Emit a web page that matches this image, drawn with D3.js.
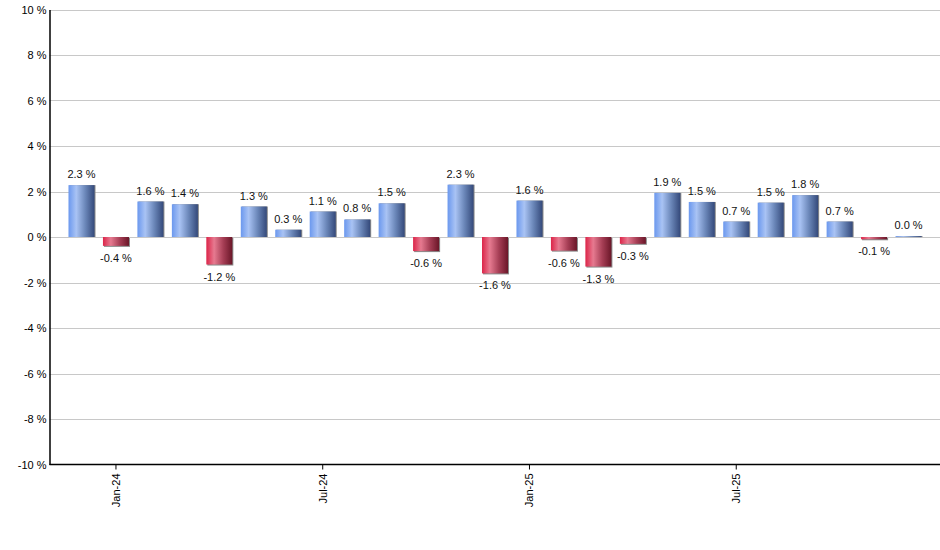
<!DOCTYPE html>
<html><head><meta charset="utf-8">
<script src="https://cdn.jsdelivr.net/npm/d3@7"></script>
<style>body{margin:0;background:#fff;}svg{display:block;font-family:"Liberation Sans",Arial,sans-serif;}</style>
</head><body><svg id="c" width="940" height="550"></svg>
<script>
const months = ["Dec-23","Jan-24","Feb-24","Mar-24","Apr-24","May-24","Jun-24","Jul-24","Aug-24","Sep-24","Oct-24","Nov-24","Dec-24","Jan-25","Feb-25","Mar-25","Apr-25","May-25","Jun-25","Jul-25","Aug-25","Sep-25","Oct-25","Nov-25","Dec-25"];
const values = [2.28,-0.39,1.56,1.44,-1.21,1.34,0.32,1.12,0.77,1.48,-0.62,2.3,-1.6,1.6,-0.6,-1.3,-0.3,1.94,1.54,0.68,1.51,1.84,0.68,-0.1,0.04];
const labels = ["2.3 %","-0.4 %","1.6 %","1.4 %","-1.2 %","1.3 %","0.3 %","1.1 %","0.8 %","1.5 %","-0.6 %","2.3 %","-1.6 %","1.6 %","-0.6 %","-1.3 %","-0.3 %","1.9 %","1.5 %","0.7 %","1.5 %","1.8 %","0.7 %","-0.1 %","0.0 %"];
const xTickMonths = ["Jan-24","Jul-24","Jan-25","Jul-25"];
const yTicks = [-10,-8,-6,-4,-2,0,2,4,6,8,10];

(function(){
const svg = d3.select("#c");
const defs = svg.append("defs");
function grad(id, stops){
  const g = defs.append("linearGradient").attr("id",id).attr("x1","0").attr("x2","1").attr("y1","0").attr("y2","0");
  stops.forEach(s=>g.append("stop").attr("offset",s[0]).attr("stop-color",s[1]));
}
grad("gBlue",[[0,"#6b98ee"],[0.3,"#a9c3f4"],[0.65,"#6a86b8"],[1,"#34497a"]]);
grad("gRed",[[0,"#dc2448"],[0.3,"#e67a90"],[0.65,"#a63e55"],[1,"#6a1628"]]);

const pLeft = 49.5, pRight = 940, pTop = 9.5, pBottom = 464.5;
const step = 34.46, c0 = 81.5;
const x = d3.scaleBand().domain(months)
  .range([c0 - step/2, c0 - step/2 + step*months.length])
  .paddingInner(0.245).paddingOuter(0.1225);
const y = d3.scaleLinear().domain([-10,10]).range([pBottom, pTop]);

// grid
svg.append("g").selectAll("line").data(yTicks.filter(d=>d>-10)).join("line")
  .attr("x1",pLeft).attr("x2",pRight).attr("y1",d=>Math.round(y(d))+0.5).attr("y2",d=>Math.round(y(d))+0.5)
  .attr("stroke","#c8c8c8").attr("stroke-width",1);

// y axis
const yAxis = d3.axisLeft(y).tickValues(yTicks).tickSize(0).tickPadding(3).tickFormat(d=>d+" %");
const ya = svg.append("g").attr("transform",`translate(${pLeft},0)`).call(yAxis);
ya.select(".domain").attr("stroke","#000").attr("stroke-width",1.5);
ya.selectAll("text").attr("font-size","11px").attr("fill","#000").attr("font-family","Liberation Sans, Arial, sans-serif");

// bars
const g = svg.append("g");
const bw = x.bandwidth();
values.forEach((v,i)=>{
  const m = months[i];
  const x0 = x(m);
  const y0 = Math.min(y(v), y(0)), h = Math.abs(y(v)-y(0));
  g.append("rect").attr("x",x0+1).attr("y",y0+ (v>=0?0:1)).attr("width",bw).attr("height",Math.max(h,1)).attr("fill","#8a8a8a");
  g.append("rect").attr("x",x0).attr("y",y0).attr("width",bw).attr("height",Math.max(h,1))
    .attr("fill", v>=0 ? "url(#gBlue)" : "url(#gRed)");
  g.append("text").attr("x",x0+bw/2)
    .attr("y", v>=0 ? y(v)-7 : y(v)+16)
    .attr("text-anchor","middle").attr("font-size","11px").attr("fill","#111").text(labels[i]);
});

// x axis
const xAxis = d3.axisBottom(x).tickValues(xTickMonths).tickSize(5).tickSizeOuter(0).tickPadding(3);
const xa = svg.append("g").attr("transform",`translate(0,${pBottom})`).call(xAxis);
xa.select(".domain").remove();
xa.selectAll("line").attr("stroke","#000");
svg.append("line").attr("x1",pLeft).attr("x2",pRight).attr("y1",pBottom).attr("y2",pBottom).attr("stroke","#000").attr("stroke-width",1.5);
xa.selectAll("text").attr("font-size","11px").attr("fill","#000")
  .attr("transform","rotate(-90)").attr("text-anchor","end").attr("dy","0.35em").attr("x",-9).attr("y",0);
})();
</script></body></html>
